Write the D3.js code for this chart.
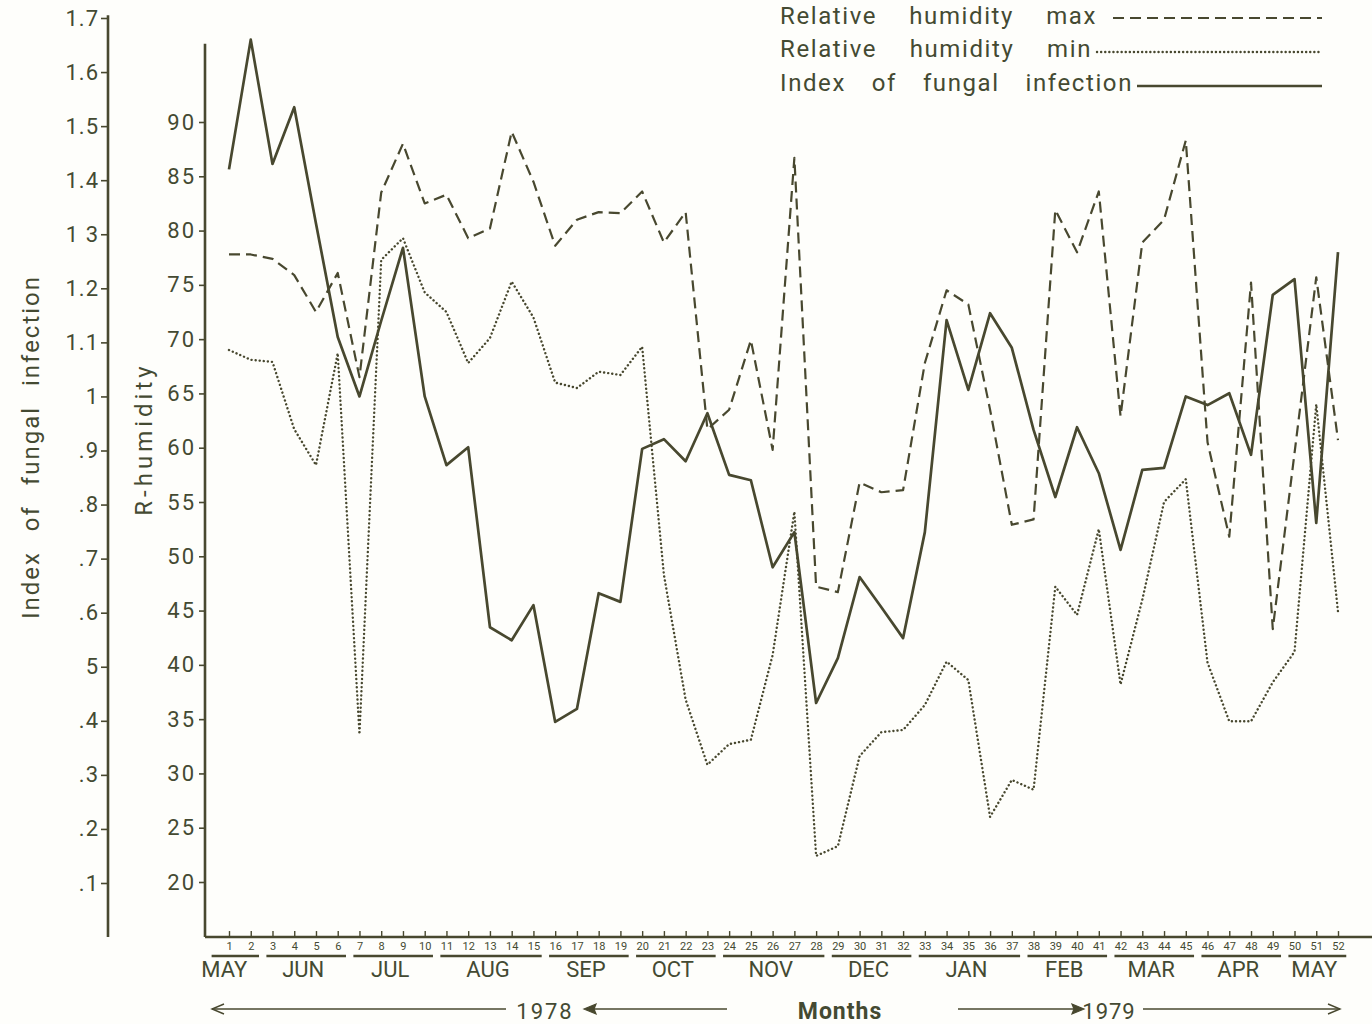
<!DOCTYPE html>
<html>
<head>
<meta charset="utf-8">
<script src="https://cdn.jsdelivr.net/npm/d3@7"></script>
<style>
  html, body { margin: 0; padding: 0; background: #fefefb; }
  svg { display: block; }
  text { font-family: Roboto, "Liberation Sans", sans-serif; fill: #444a32; }
</style>
</head>
<body>
<svg id="chart" width="1372" height="1024"></svg>
<script>
// Weekly observations, May 1978 – May 1979
const weeks = d3.range(1, 53);

// Relative humidity maximum (%)
const rhMax = [77.8, 77.8, 77.4, 75.9, 72.5, 76.1, 66.5, 83.5, 88.0, 82.5,
               83.3, 79.3, 80.2, 89.1, 84.5, 78.6, 81.0, 81.7, 81.6, 83.6,
               78.9, 81.7, 61.7, 63.5, 69.9, 59.8, 86.7, 47.2, 46.7, 56.8,
               55.9, 56.1, 67.8, 74.5, 73.2, 63.5, 52.9, 53.4, 81.9, 78.0,
               83.6, 62.9, 78.9, 81.0, 88.3, 60.5, 51.8, 75.2, 43.3, 59.5,
               75.7, 60.7];

// Relative humidity minimum (%)
const rhMin = [69.0, 68.1, 67.9, 61.7, 58.4, 68.7, 33.6, 77.3, 79.3, 74.3,
               72.5, 67.8, 70.1, 75.3, 72.0, 66.0, 65.5, 67.0, 66.7, 69.3,
               48.3, 36.8, 30.8, 32.7, 33.1, 40.9, 54.1, 22.4, 23.3, 31.6,
               33.8, 34.0, 36.3, 40.3, 38.6, 26.0, 29.4, 28.5, 47.2, 44.6,
               52.5, 38.2, 46.0, 55.0, 57.1, 40.2, 34.8, 34.8, 38.4, 41.2,
               64.0, 44.9];

// Index of fungal infection
const fungalIndex = [1.42, 1.66, 1.43, 1.535, 1.32, 1.11, 1.00, 1.14, 1.275, 1.00,
                     0.873, 0.906, 0.573, 0.549, 0.614, 0.398, 0.422, 0.636, 0.62, 0.903,
                     0.921, 0.88, 0.969, 0.855, 0.845, 0.684, 0.749, 0.433, 0.516, 0.666,
                     0.61, 0.553, 0.749, 1.141, 1.012, 1.154, 1.09, 0.938, 0.814, 0.943,
                     0.858, 0.716, 0.864, 0.868, 1.00, 0.984, 1.006, 0.892, 1.188, 1.217,
                     0.766, 1.267];

// Axis ticks
const indexTicks = [1.7, 1.6, 1.5, 1.4, 1.3, 1.2, 1.1, 1.0, 0.9, 0.8, 0.7, 0.6, 0.5, 0.4, 0.3, 0.2, 0.1];
const indexTickLabels = ["1.7", "1.6", "1.5", "1.4", "1 3", "1.2", "1.1", "1", ".9", ".8", ".7", ".6", "5", ".4", ".3", ".2", ".1"];
const humidityTicks = [90, 85, 80, 75, 70, 65, 60, 55, 50, 45, 40, 35, 30, 25, 20];

// Month groups along the week axis
const monthNames = ["MAY", "JUN", "JUL", "AUG", "SEP", "OCT", "NOV", "DEC", "JAN", "FEB", "MAR", "APR", "MAY"];
const monthFirstWeek = [1, 3, 7, 11, 16, 20, 24, 29, 33, 38, 42, 46, 50];
const monthLastWeek  = [2, 6, 10, 15, 19, 23, 28, 32, 37, 41, 45, 49, 52];

const seriesNames = ["Relative humidity max", "Relative humidity min", "Index of fungal infection"];

const INK = "#48482f";
const svg = d3.select("#chart");

const x = d3.scaleLinear().domain([1, 52]).range([229, 1338]);
const yHum = d3.scaleLinear().domain([20, 90]).range([882, 122]);
const yIdx = d3.scaleLinear().domain([0.1, 1.7]).range([883, 18]);

const baseY = yIdx(0);          // common floor of both vertical axes
const idxAxisX = 108, humAxisX = 205;

// ---- Left axis: index of fungal infection ----
const idxAxis = d3.axisLeft(yIdx)
  .tickValues(indexTicks)
  .tickFormat(d => indexTickLabels[indexTicks.indexOf(d)])
  .tickSize(7).tickPadding(2);
const gIdx = svg.append("g").attr("transform", `translate(${idxAxisX},0)`).call(idxAxis);
gIdx.select(".domain").remove();
gIdx.selectAll(".tick line").attr("stroke", INK).attr("stroke-width", 1.6);
gIdx.selectAll(".tick text").attr("font-size", 22).attr("fill", "#444a32")
  .style("font-family", "Roboto, sans-serif").attr("letter-spacing", 1);
gIdx.append("line").attr("x1", 0).attr("x2", 0)
  .attr("y1", yIdx(1.705)).attr("y2", baseY)
  .attr("stroke", INK).attr("stroke-width", 2.6);

// ---- Second axis: relative humidity ----
const humAxis = d3.axisLeft(yHum).tickValues(humidityTicks).tickSize(6).tickPadding(3);
const gHum = svg.append("g").attr("transform", `translate(${humAxisX},0)`).call(humAxis);
gHum.select(".domain").remove();
gHum.selectAll(".tick line").attr("stroke", INK).attr("stroke-width", 1.6);
gHum.selectAll(".tick text").attr("font-size", 22).attr("fill", "#444a32")
  .style("font-family", "Roboto, sans-serif").attr("letter-spacing", 2);
gHum.append("line").attr("x1", 0).attr("x2", 0)
  .attr("y1", yHum(97.2)).attr("y2", baseY)
  .attr("stroke", INK).attr("stroke-width", 2.6);

// ---- Axis titles ----
svg.append("text")
  .attr("transform", `translate(39,447) rotate(-90)`)
  .attr("text-anchor", "middle").attr("font-size", 24)
  .attr("letter-spacing", 2).attr("word-spacing", 12)
  .text("Index of fungal infection");
svg.append("text")
  .attr("transform", `translate(152,439) rotate(-90)`)
  .attr("text-anchor", "middle").attr("font-size", 24).attr("letter-spacing", 4)
  .text("R-humidity");

// ---- Week axis ----
svg.append("line").attr("x1", humAxisX).attr("x2", 1372)
  .attr("y1", baseY).attr("y2", baseY)
  .attr("stroke", INK).attr("stroke-width", 2.6);

const weekAxis = d3.axisBottom(x).tickValues(weeks).tickFormat(d3.format("d"))
  .tickSizeInner(-6).tickSizeOuter(0).tickPadding(4);
const gWeek = svg.append("g").attr("transform", `translate(0,${baseY})`).call(weekAxis);
gWeek.select(".domain").remove();
gWeek.selectAll(".tick line").attr("stroke", INK).attr("stroke-width", 1.4);
gWeek.selectAll(".tick text").attr("font-size", 11).attr("fill", "#444a32")
  .attr("dy", "0.85em").style("font-family", "Roboto, sans-serif");

// month underlines and names
const step = x(2) - x(1);
const monthG = svg.append("g");
monthNames.forEach((m, i) => {
  const x0 = x(monthFirstWeek[i]) - (i === 0 ? 0.8 : 0.28) * step;
  const x1 = x(monthLastWeek[i]) + 0.38 * step;
  monthG.append("line").attr("x1", x0).attr("x2", x1)
    .attr("y1", 956).attr("y2", 956)
    .attr("stroke", INK).attr("stroke-width", 2.4);
  monthG.append("text").attr("x", (x0 + x1) / 2 - (i === 0 ? 11 : 3)).attr("y", 977)
    .attr("text-anchor", "middle").attr("font-size", 22)
    .text(m);
});

// ---- Year arrows and "Months" caption ----
const foot = svg.append("g");
const arrowY = 1009;
foot.append("line").attr("x1", 212).attr("x2", 506).attr("y1", arrowY).attr("y2", arrowY)
  .attr("stroke", INK).attr("stroke-width", 1.4);
foot.append("path").attr("d", `M224,${arrowY - 5} L212,${arrowY} L224,${arrowY + 5}`)
  .attr("fill", "none").attr("stroke", INK).attr("stroke-width", 1.4);
foot.append("text").attr("x", 545).attr("y", 1019).attr("text-anchor", "middle")
  .attr("font-size", 22).attr("letter-spacing", 2).text("1978");
foot.append("line").attr("x1", 588).attr("x2", 727).attr("y1", arrowY).attr("y2", arrowY)
  .attr("stroke", INK).attr("stroke-width", 1.4);
foot.append("path").attr("d", `M584,${arrowY} L596,${arrowY - 5} L594,${arrowY} L596,${arrowY + 5} Z`)
  .attr("fill", INK).attr("stroke", INK).attr("stroke-width", 1.2);
foot.append("text").attr("x", 840).attr("y", 1019).attr("text-anchor", "middle")
  .attr("font-size", 23).attr("font-weight", "bold").attr("letter-spacing", 1).text("Months");
foot.append("line").attr("x1", 958).attr("x2", 1080).attr("y1", arrowY).attr("y2", arrowY)
  .attr("stroke", INK).attr("stroke-width", 1.4);
foot.append("path").attr("d", `M1084,${arrowY} L1072,${arrowY - 5} L1074,${arrowY} L1072,${arrowY + 5} Z`)
  .attr("fill", INK).attr("stroke", INK).attr("stroke-width", 1.2);
foot.append("text").attr("x", 1109).attr("y", 1019).attr("text-anchor", "middle")
  .attr("font-size", 22).attr("letter-spacing", 1).text("1979");
foot.append("line").attr("x1", 1143).attr("x2", 1340).attr("y1", arrowY).attr("y2", arrowY)
  .attr("stroke", INK).attr("stroke-width", 1.4);
foot.append("path").attr("d", `M1328,${arrowY - 5} L1340,${arrowY} L1328,${arrowY + 5}`)
  .attr("fill", "none").attr("stroke", INK).attr("stroke-width", 1.4);

// ---- Data lines ----
const lineHum = d3.line().x((d, i) => x(weeks[i])).y(d => yHum(d)).curve(d3.curveLinear);
const lineIdx = d3.line().x((d, i) => x(weeks[i])).y(d => yIdx(d)).curve(d3.curveLinear);

const styles = [
  { width: 2.2, dash: "11 6", cap: "butt" },
  { width: 2.4, dash: "0.1 4", cap: "round" },
  { width: 2.7, dash: null, cap: "butt" }
];

const plot = svg.append("g").attr("fill", "none").attr("stroke", INK).attr("stroke-linejoin", "round");
plot.append("path").datum(rhMax).attr("d", lineHum)
  .attr("stroke-width", styles[0].width).attr("stroke-dasharray", styles[0].dash);
plot.append("path").datum(rhMin).attr("d", lineHum)
  .attr("stroke-width", styles[1].width).attr("stroke-dasharray", styles[1].dash)
  .attr("stroke-linecap", styles[1].cap);
plot.append("path").datum(fungalIndex).attr("d", lineIdx)
  .attr("stroke-width", styles[2].width);

// ---- Legend ----
const legend = svg.append("g");
const legendRows = [
  { y: 24, lineY: 18, lineStart: 1113 },
  { y: 57, lineY: 52, lineStart: 1097 },
  { y: 91, lineY: 86, lineStart: 1137 }
];
const legendEnds = [1097, 1092, 1133];
seriesNames.forEach((name, i) => {
  const t = legend.append("text").attr("x", 780).attr("y", legendRows[i].y)
    .attr("font-size", 24).attr("letter-spacing", 1.6).text(name);
  // spread the words so the caption ends where its sample line begins
  const len = t.node().getComputedTextLength();
  const gaps = name.split(" ").length - 1;
  t.attr("word-spacing", Math.max(0, (legendEnds[i] - 780 - len) / gaps));
  const s = styles[i];
  legend.append("line")
    .attr("x1", legendRows[i].lineStart).attr("x2", 1322)
    .attr("y1", legendRows[i].lineY).attr("y2", legendRows[i].lineY)
    .attr("stroke", INK).attr("stroke-width", s.width)
    .attr("stroke-dasharray", s.dash).attr("stroke-linecap", s.cap);
});
</script>
</body>
</html>
